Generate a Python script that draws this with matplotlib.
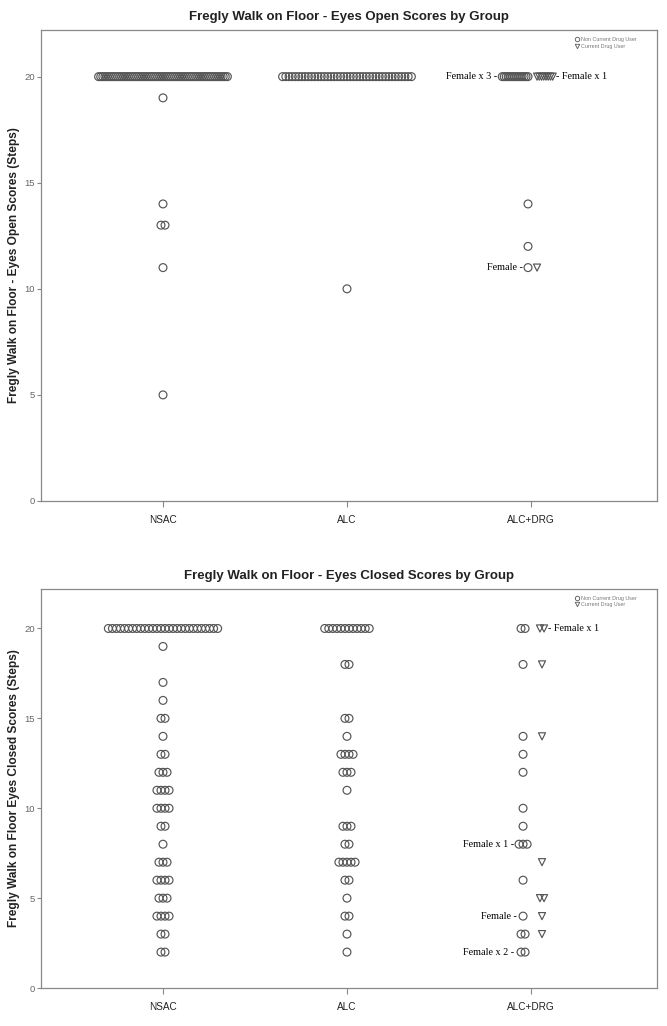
import matplotlib
matplotlib.use('Agg')
import matplotlib.pyplot as plt
from matplotlib.lines import Line2D

# ---- data: score values and how many subjects sit at each value ----
groups = ['NSAC', 'ALC', 'ALC+DRG']

# eyes open
open_nsac_vals = [20, 19, 14, 13, 11, 5]
open_nsac_counts = [62, 1, 1, 2, 1, 1]
open_alc_vals = [20, 10]
open_alc_counts = [41, 1]
open_drg_non_vals = [20, 14, 12, 11]
open_drg_non_counts = [14, 1, 1, 1]
open_drg_usr_vals = [20, 11]
open_drg_usr_counts = [8, 1]

# eyes closed
closed_nsac_vals = [20, 19, 17, 16, 15, 14, 13, 12, 11, 10, 9, 8, 7, 6, 5, 4, 3, 2]
closed_nsac_counts = [28, 1, 1, 1, 2, 1, 2, 3, 4, 4, 2, 1, 3, 4, 3, 4, 2, 2]
closed_alc_vals = [20, 18, 15, 14, 13, 12, 11, 9, 8, 7, 6, 5, 4, 3, 2]
closed_alc_counts = [12, 2, 2, 1, 4, 3, 1, 3, 2, 5, 2, 1, 2, 1, 1]
closed_drg_non_vals = [20, 18, 14, 13, 12, 10, 9, 8, 6, 4, 3, 2]
closed_drg_non_counts = [2, 1, 1, 1, 1, 1, 1, 3, 1, 1, 2, 2]
closed_drg_usr_vals = [20, 18, 14, 7, 5, 4, 3]
closed_drg_usr_counts = [2, 1, 1, 1, 2, 1, 1]

GRAY = '#555555'
DOT = 0.022      # spacing of touching dots, in category units
MAXW = 0.70      # widest a stack may get


def stack(center, vals, counts, maxw, align):
    xs, ys = [], []
    for v, n in zip(vals, counts):
        step = DOT if n < 2 else min(DOT, maxw / (n - 1))
        if align == 'right':
            start = center - (n - 1) * step
        elif align == 'left':
            start = center
        else:
            start = center - (n - 1) / 2.0 * step
        for k in range(n):
            xs.append(start + k * step)
            ys.append(v)
    return xs, ys


def dots(ax, center, vals, counts, marker='o', maxw=MAXW, align='center'):
    xs, ys = stack(center, vals, counts, maxw, align)
    ax.scatter(xs, ys, s=32 if marker == 'o' else 26, marker=marker,
               facecolors='none', edgecolors=GRAY, linewidths=0.85, zorder=3)


def frame(ax, title, ylabel):
    ax.set_xlim(-0.663, 2.685)
    ax.set_ylim(0, 22.2)
    ax.set_xticks(range(len(groups)))
    ax.set_xticklabels(groups, fontsize=7.2, color='#222222')
    ax.set_yticks([0, 5, 10, 15, 20])
    ax.tick_params(axis='y', labelsize=6.8, labelcolor='#666666', colors='#888888',
                   length=3, width=0.8, pad=1.5)
    ax.tick_params(axis='x', colors='#888888', length=4, width=0.8,
                   labelcolor='#222222', pad=6)
    for s in ax.spines.values():
        s.set_color('#888888')
        s.set_linewidth(0.9)
    ax.set_title(title, fontsize=9.5, fontweight='bold', color='#222222', pad=7)
    ax.set_ylabel(ylabel, fontsize=8.6, fontweight='bold', color='#222222', labelpad=3)
    hnd = [Line2D([], [], ls='none', marker='o', mfc='none', mec=GRAY, ms=3.2, mew=0.6),
           Line2D([], [], ls='none', marker='v', mfc='none', mec=GRAY, ms=3.2, mew=0.6)]
    ax.legend(hnd, ['Non Current Drug User', 'Current Drug User'], loc='upper right',
              bbox_to_anchor=(0.975, 0.995), fontsize=3.9, frameon=False,
              handletextpad=0.3, labelspacing=0.25, handlelength=0.8,
              labelcolor='#777777')


plt.rcParams['font.family'] = ['Liberation Sans', 'DejaVu Sans']
fig = plt.figure(figsize=(6.67, 10.26), dpi=100)
ax1 = fig.add_axes([0.0615, 0.5117, 0.9235, 0.4591])
ax2 = fig.add_axes([0.0615, 0.0370, 0.9235, 0.3890])

serif = dict(family='Liberation Serif', fontsize=7.3, color='black', va='center')

# eyes open
dots(ax1, 0, open_nsac_vals, open_nsac_counts)
dots(ax1, 1, open_alc_vals, open_alc_counts)
dots(ax1, 2 - 0.016, open_drg_non_vals, open_drg_non_counts, maxw=0.14, align='right')
dots(ax1, 2 + 0.033, open_drg_usr_vals, open_drg_usr_counts, marker='v', maxw=0.085, align='left')
frame(ax1, 'Fregly Walk on Floor - Eyes Open Scores by Group',
      'Fregly Walk on Floor - Eyes Open Scores (Steps)')
ax1.text(2 - 0.185, 20, 'Female x 3 -', ha='right', **serif)
ax1.text(2 + 0.135, 20, '- Female x 1', ha='left', **serif)
ax1.text(2 - 0.045, 11, 'Female -', ha='right', **serif)

# eyes closed
dots(ax2, 0, closed_nsac_vals, closed_nsac_counts)
dots(ax2, 1, closed_alc_vals, closed_alc_counts)
dots(ax2, 2 - 0.043, closed_drg_non_vals, closed_drg_non_counts)
dots(ax2, 2 + 0.060, closed_drg_usr_vals, closed_drg_usr_counts, marker='v')
frame(ax2, 'Fregly Walk on Floor - Eyes Closed Scores by Group',
      'Fregly Walk on Floor Eyes Closed Scores (Steps)')
ax2.text(2 + 0.09, 20, '- Female x 1', ha='left', **serif)
ax2.text(2 - 0.09, 8, 'Female x 1 -', ha='right', **serif)
ax2.text(2 - 0.075, 4, 'Female -', ha='right', **serif)
ax2.text(2 - 0.09, 2, 'Female x 2 -', ha='right', **serif)

fig.savefig('out.png', dpi=100)
